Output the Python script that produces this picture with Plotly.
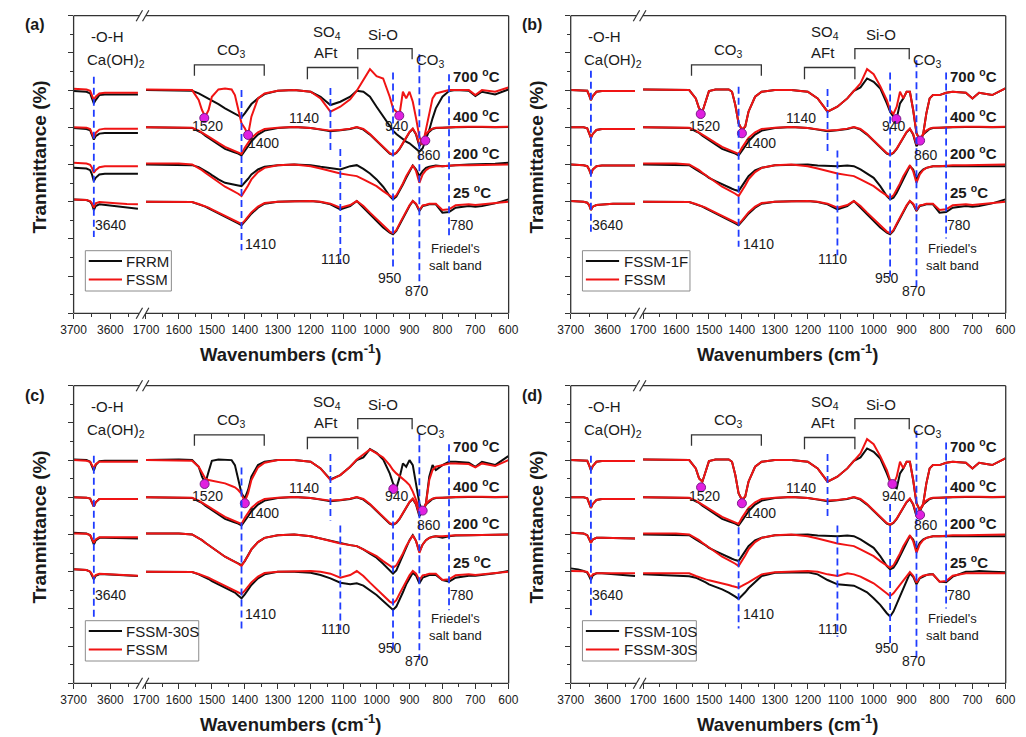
import plotly.graph_objects as go

# ---------------------------------------------------------------- data
# wavenumber grids (cm-1) of the two x-axis segments
wn_right = [1700, 1600, 1560, 1540, 1530, 1520, 1510, 1500, 1480, 1460, 1440, 1430, 1420, 1410,
            1400, 1390, 1380, 1360, 1340, 1300, 1250, 1200, 1170, 1140, 1110, 1080, 1060, 1040,
            1020, 1000, 980, 960, 950, 940, 930, 920, 910, 900, 890, 880, 870, 860, 850, 840,
            830, 820, 800, 780, 760, 720, 700, 680, 640, 600]
wn_left = [3700, 3680, 3665, 3655, 3650, 3645, 3640, 3630, 3615, 3585, 3555, 3525]

temperatures = [700, 400, 200, 25]
temp_labels = ["700", "400", "200", "25"]
stack_offset = {700: 672, 400: 560, 200: 448, 25: 336}   # vertical stacking of spectra (a.u.)

# relative transmittance (a.u.), 1700-600 cm-1 segment
a_frrm_700 = [0, 0, -2, -10, -15, -20, -25, -30, -42, -55, -65, -70, -75, -82, -70, -55, -42, -25, -12, -2,
              0, -5, -20, -45, -35, -20, -2, -5, -20, -50, -80, -110, -122, -132, -140, -148, -155, -160,
              -168, -175, -185, -175, -150, -120, -85, -55, -20, -3, 0, -2, -18, -5, -13, 2]
a_fssm_700 = [2, 2, 0, -30, -60, -80, -60, -20, 2, 5, 2, -15, -60, -100, -115, -135, -80, -25, -10, -2,
              0, -5, -25, -65, -50, -28, -2, 30, 63, 42, 35, -20, -55, -65, -72, -5, -25, -5, -35, -85,
              -140, -165, -120, -65, -25, -10, -5, 0, 0, 0, -15, 0, -5, 8]
a_frrm_400 = [0, 0, -2, -12, -17, -25, -32, -39, -52, -65, -72, -75, -79, -85, -69, -57, -42, -22, -10, -2,
              1, -2, -7, -12, -9, -5, 0, -7, -22, -42, -62, -79, -83, -77, -65, -47, -29, -15, -5, -22,
              -57, -42, -22, -12, -5, -2, -2, -2, 0, 1, 0, 1, 0, 1]
a_fssm_400 = [0, 0, -1, -10, -15, -22, -28, -35, -47, -59, -67, -71, -75, -80, -62, -47, -32, -15, -5, -1,
              1, -2, -6, -10, -8, -4, 1, -5, -20, -40, -60, -78, -82, -76, -64, -46, -28, -14, -4, -20,
              -52, -38, -20, -10, -4, -1, -1, -1, 1, 2, 1, 2, 1, 2]
a_frrm_200 = [0, 0, -2, -8, -13, -19, -25, -32, -45, -55, -60, -62, -63, -65, -55, -43, -30, -15, -7, -2,
              0, -2, -7, -12, -15, -5, -2, -13, -27, -45, -67, -95, -105, -97, -80, -60, -40, -20, -3,
              -15, -35, -20, -10, -7, -5, -3, -5, -3, -2, 0, 0, 0, 2, 5]
a_fssm_200 = [3, 3, 0, -10, -17, -25, -32, -38, -53, -67, -77, -82, -88, -95, -80, -63, -45, -23, -10, -2,
              0, -5, -12, -20, -27, -32, -35, -45, -55, -65, -80, -95, -100, -93, -77, -57, -35, -17, -2,
              -20, -55, -30, -17, -10, -7, -5, -5, -3, -2, -2, -2, -2, -2, 0]
a_frrm_25 = [0, 0, -1, -8, -11, -15, -20, -25, -35, -45, -53, -58, -65, -71, -61, -48, -36, -18, -6, 0,
             1, 2, -1, -8, -23, -13, 2, -18, -38, -58, -78, -93, -98, -88, -68, -48, -28, -13, 2, -8,
             -28, -13, -11, -8, -8, -8, -33, -31, -18, -13, -15, -13, -5, 7]
a_fssm_25 = [0, 0, -1, -7, -10, -14, -18, -23, -33, -43, -51, -56, -62, -67, -57, -44, -32, -15, -4, 0,
             1, 2, 0, -6, -18, -10, 2, -13, -33, -53, -73, -90, -95, -86, -66, -46, -26, -11, 2, -6,
             -25, -11, -9, -6, -6, -6, -25, -23, -11, -8, -10, -8, -3, 0]
b_fssm1f_700 = [2, 2, 0, -25, -55, -65, -30, -3, 2, 2, 2, -5, -45, -100, -120, -110, -65, -20, -5, 0,
                0, -5, -25, -65, -50, -25, -2, 8, 35, 25, 5, -40, -65, -80, -85, -40, -25, -5, -5, -60,
                -130, -150, -135, -70, -25, -15, -15, -8, -5, -8, -25, -8, -15, 5]
b_fssm_700 = [2, 2, 0, -25, -55, -65, -30, -3, 2, 2, 2, -5, -45, -100, -118, -110, -65, -20, -5, 0,
              0, -5, -25, -65, -50, -25, -2, 20, 63, 48, 12, -30, -60, -72, -50, -5, -25, -5, -5, -60,
              -130, -150, -135, -70, -25, -15, -15, -8, -5, -8, -25, -8, -15, 5]
b_fssm1f_200 = [0, 0, -2, -15, -20, -27, -33, -40, -50, -60, -70, -73, -77, -80, -65, -50, -35, -18, -10, -2,
                0, 0, -3, -5, -5, -3, -5, -15, -28, -40, -65, -95, -105, -100, -85, -65, -45, -25, -5,
                -15, -45, -25, -15, -10, -7, -5, -5, -5, -3, -3, -3, -3, -3, -5]
c_fssm30s_700 = [0, 2, 0, -20, -50, -70, -35, -2, 2, 2, 0, -15, -60, -100, -115, -90, -50, -15, -5, 0,
                 0, -5, -25, -58, -45, -20, 0, 8, 33, 22, 2, -40, -70, -85, -52, -10, -20, 0, -15, -70,
                 -130, -155, -130, -50, -15, -30, -15, -5, -5, -8, -20, -5, -15, 12]
c_fssm_700 = [0, 0, -2, -20, -40, -55, -60, -62, -65, -70, -78, -82, -90, -102, -125, -100, -60, -22, -8, 0,
              0, -5, -25, -60, -45, -20, 2, 18, 32, 20, 8, -15, -30, -40, -48, -55, -65, -75, -95, -120,
              -145, -155, -130, -60, -30, -20, -15, -10, -10, -12, -22, -10, -18, 0]
c_fssm30s_200 = [3, 3, 0, -10, -17, -25, -32, -38, -53, -67, -77, -82, -88, -92, -80, -63, -45, -23, -10, -2,
                 0, -5, -12, -20, -27, -32, -35, -45, -58, -70, -88, -108, -118, -108, -85, -60, -37, -17,
                 -2, -20, -52, -30, -17, -10, -7, -5, -10, -5, -3, -2, -2, -2, -2, 0]
c_fssm30s_25 = [0, 0, -1, -8, -12, -16, -22, -28, -38, -48, -58, -63, -72, -80, -68, -55, -40, -20, -8, 0,
                0, -3, -10, -20, -33, -38, -35, -42, -55, -70, -88, -108, -115, -105, -85, -62, -38, -20,
                -3, -12, -35, -18, -13, -10, -10, -10, -25, -30, -18, -12, -12, -10, -5, 2]
d_fssm10s_25 = [-8, -12, -14, -18, -22, -27, -32, -38, -45, -53, -63, -68, -75, -82, -73, -62, -50, -30, -13,
                -3, -2, -2, -8, -25, -38, -40, -42, -52, -62, -80, -100, -125, -135, -120, -98, -75, -50,
                -28, -5, -15, -38, -20, -15, -10, -8, -8, -30, -32, -15, 0, 0, 2, 0, -2]
d_fssm30s_25 = [-5, -5, -5, -13, -17, -20, -23, -26, -30, -36, -40, -43, -46, -48, -43, -38, -32, -20, -8,
                -2, 0, 2, 0, -8, -13, -5, -8, -15, -25, -35, -50, -65, -73, -65, -52, -38, -25, -15, -1,
                -12, -33, -18, -12, -10, -8, -8, -30, -28, -12, -5, -5, -5, -5, -5]

# relative transmittance (a.u.), 3700-3525 cm-1 segment (-O-H band)
a_frrm_oh_700 = [-3, -3, -5, -10, -25, -40, -30, -15, -13, -13, -13, -13]
a_frrm_oh_400 = [-2, -3, -5, -9, -22, -37, -27, -19, -17, -17, -17, -17]
a_frrm_oh_200 = [-10, -10, -12, -17, -30, -50, -40, -30, -28, -28, -28, -28]
a_frrm_oh_25 = [7, 7, 5, 0, -8, -25, -13, -8, -10, -13, -18, -21]
a_fssm_oh_700 = [4, 3, 2, -2, -15, -30, -20, -10, -8, -8, -8, -8]
a_fssm_oh_400 = [0, 0, -1, -5, -17, -32, -17, -7, -4, -4, -4, -4]
a_fssm_oh_200 = [5, 5, 3, -1, -10, -25, -17, -8, -5, -5, -5, -5]
a_fssm_oh_25 = [7, 7, 5, 2, -5, -18, -5, -1, -3, -5, -7, -8]
b_oh_700 = [0, 0, 0, -2, -15, -30, -18, -5, -3, -3, -3, -3]
b_oh_400 = [0, 0, 0, -3, -15, -32, -20, -8, -5, -5, -5, -5]
b_oh_200 = [0, 0, -2, -5, -15, -30, -15, -5, -3, -3, -3, -3]
b_oh_25 = [2, 2, 0, -3, -10, -25, -15, -10, -8, -6, -6, -6]
c_fssm30s_oh_700 = [2, 2, 0, -5, -20, -32, -15, -3, -2, -2, -2, -2]
c_fssm_oh_700 = [0, 0, -2, -5, -15, -25, -12, -5, -5, -5, -5, -5]
c_oh_400 = [0, 0, -1, -4, -15, -28, -15, -5, -5, -5, -5, -5]
c_fssm30s_oh_200 = [5, 5, 3, -2, -15, -30, -18, -10, -10, -10, -10, -12]
c_fssm_oh_200 = [3, 3, 2, -2, -12, -25, -15, -8, -8, -8, -8, -8]
c_fssm30s_oh_25 = [7, 7, 5, 0, -10, -23, -12, -8, -8, -10, -12, -13]
c_fssm_oh_25 = [7, 7, 5, 0, -8, -20, -10, -6, -7, -9, -11, -12]
d_oh_200 = [5, 5, 3, -2, -12, -25, -15, -10, -10, -10, -12, -12]
d_fssm10s_oh_25 = [10, 7, 2, -3, -13, -25, -11, -5, -5, -8, -11, -13]
d_fssm30s_oh_25 = [2, 2, 1, -1, -8, -18, -8, -5, -5, -5, -5, -5]

# highlighted band positions (magenta markers): wavenumber, a.u.
a_mark_wn = [1523, 1390, 931, 852]
a_mark_v = [588, 537, 595, 520]
b_mark_wn = [1525, 1400, 931, 859]
b_mark_v = [600, 542, 585, 520]
c_mark_wn = [1522, 1400, 949, 860]
c_mark_v = [600, 542, 585, 520]
d_mark_wn = [1524, 1400, 943, 859]
d_mark_v = [590, 542, 600, 507]

# dashed band lines (cm-1)
band_left = 3645
bands_right = [1410, 1140, 1110, 950, 870, 780]

panels = [
    dict(tag="(a)", black="FRRM", red="FSSM",
         black_r=[a_frrm_700, a_frrm_400, a_frrm_200, a_frrm_25],
         red_r=[a_fssm_700, a_fssm_400, a_fssm_200, a_fssm_25],
         black_l=[a_frrm_oh_700, a_frrm_oh_400, a_frrm_oh_200, a_frrm_oh_25],
         red_l=[a_fssm_oh_700, a_fssm_oh_400, a_fssm_oh_200, a_fssm_oh_25],
         mark=(a_mark_wn, a_mark_v)),
    dict(tag="(b)", black="FSSM-1F", red="FSSM",
         black_r=[b_fssm1f_700, a_frrm_400, b_fssm1f_200, a_frrm_25],
         red_r=[b_fssm_700, a_fssm_400, a_fssm_200, a_fssm_25],
         black_l=[b_oh_700, b_oh_400, b_oh_200, b_oh_25],
         red_l=[b_oh_700, b_oh_400, b_oh_200, b_oh_25],
         mark=(b_mark_wn, b_mark_v)),
    dict(tag="(c)", black="FSSM-30S", red="FSSM",
         black_r=[c_fssm30s_700, a_frrm_400, c_fssm30s_200, c_fssm30s_25],
         red_r=[c_fssm_700, a_fssm_400, a_fssm_200, a_fssm_25],
         black_l=[c_fssm30s_oh_700, c_oh_400, c_fssm30s_oh_200, c_fssm30s_oh_25],
         red_l=[c_fssm_oh_700, c_oh_400, c_fssm_oh_200, c_fssm_oh_25],
         mark=(c_mark_wn, c_mark_v)),
    dict(tag="(d)", black="FSSM-10S", red="FSSM-30S",
         black_r=[b_fssm1f_700, a_frrm_400, b_fssm1f_200, d_fssm10s_25],
         red_r=[b_fssm_700, a_fssm_400, a_fssm_200, d_fssm30s_25],
         black_l=[b_oh_700, b_oh_400, d_oh_200, d_fssm10s_oh_25],
         red_l=[b_oh_700, b_oh_400, d_oh_200, d_fssm30s_oh_25],
         mark=(d_mark_wn, d_mark_v)),
]

for p in panels:
    for arr in p["black_r"] + p["red_r"]:
        assert len(arr) == len(wn_right), (p["tag"], len(arr))
    for arr in p["black_l"] + p["red_l"]:
        assert len(arr) == len(wn_left), (p["tag"], len(arr))

# ---------------------------------------------------------------- layout / style
W, H = 1026, 737
FONT = "Arial, Liberation Sans, sans-serif"
TXT = "#1a1a1a"
AXC = "#333333"
BLACK = "#0d0d0d"
RED = "#f01414"
BLUE = "#1f3cff"
MAG = "#e020e0"

OFFSETS = [(0, 0), (508.5, 0), (0, 370), (508.5, 370)]
LX0, LX1 = 62, 133            # left (3700..) segment, px
RX0, RX1 = 135.7, 507         # right (1700..600) segment, px
TOP, BOT = 15.7, 313.3
LEFT_PX_PER_CM = 0.376
LEFT_END = 3700 - (LX1 - LX0) / LEFT_PX_PER_CM
YMAX = 896

# legend box right edge per panel (px, panel frame)
LEGEND_RIGHT = [162, 184, 190, 190.5]

# vertical extent of the dashed band lines per panel (a.u.)
dash_spans = [
    {3645: (712, 230), 1410: (672, 190), 1140: (678, 480), 1110: (495, 150), 950: (725, 130), 870: (780, 80), 780: (720, 225)},
    {3645: (730, 245), 1410: (682, 200), 1140: (675, 480), 1110: (490, 175), 950: (725, 110), 870: (762, 80), 780: (725, 225)},
    {3645: (685, 200), 1410: (650, 165), 1140: (690, 490), 1110: (475, 160), 950: (520, 95), 870: (750, 70), 780: (720, 220)},
    {3645: (685, 205), 1410: (470, 165), 1140: (690, 495), 1110: (475, 140), 950: (540, 110), 870: (760, 70), 780: (725, 225)},
]

# text labels: (segment, wavenumber, a.u., text, size, xanchor)
labels = [
    ("L", 3608, 832, "-O-H", 15, "center"),
    ("L", 3586, 760, "Ca(OH)<sub>2</sub>", 15, "center"),
    ("R", 1441, 790, "CO<sub>3</sub>", 15, "center"),
    ("R", 1149, 845, "SO<sub>4</sub>", 15, "center"),
    ("R", 1154, 785, "AFt", 15, "center"),
    ("R", 979, 840, "Si-O", 15, "center"),
    ("R", 837, 762, "CO<sub>3</sub>", 15, "center"),
    ("R", 1514, 565, "1520", 14, "center"),
    ("R", 1344, 512, "1400", 14, "center"),
    ("R", 1220, 588, "1140", 14, "center"),
    ("R", 938, 565, "940", 14, "center"),
    ("R", 842, 478, "860", 14, "center"),
    ("L", 3599, 267, "3640", 14, "center"),
    ("R", 1351, 210, "1410", 14, "center"),
    ("R", 1124, 162, "1110", 14, "center"),
    ("R", 959, 105, "950", 14, "center"),
    ("R", 877, 68, "870", 14, "center"),
    ("R", 741, 265, "780", 14, "center"),
    ("R", 847, 169, "Friedel's<br>salt band", 13, "left"),
]
temp_label_y = {700: 715, 400: 595, 200: 485, 25: 368}


def ref(letter, n):
    return letter if n == 1 else f"{letter}{n}"


def key(letter, n):
    return f"{letter}axis" if n == 1 else f"{letter}axis{n}"


fig = go.Figure()
layout = dict(width=W, height=H, margin=dict(l=0, r=0, t=0, b=0, pad=0),
              paper_bgcolor="white", plot_bgcolor="rgba(0,0,0,0)",
              font=dict(family=FONT, color=TXT), showlegend=False)
shapes, annotations = [], []

for i, p in enumerate(panels):
    ox, oy = OFFSETS[i]
    nl, nr, ny = 2 * i + 1, 2 * i + 2, i + 1
    xl, xr, yy = ref("x", nl), ref("x", nr), ref("y", ny)
    tickfont = dict(size=12, family=FONT, color=TXT)

    layout[key("x", nl)] = dict(
        domain=[(ox + LX0) / W, (ox + LX1) / W], range=[3700, LEFT_END], anchor=yy,
        tickmode="array", tickvals=[3700, 3600], ticks="outside", ticklen=5, tickwidth=1.2,
        tickcolor=AXC, minor=dict(tickmode="array", tickvals=[3650, 3550], ticks="outside",
                                  ticklen=3, tickwidth=1, tickcolor=AXC),
        showgrid=False, zeroline=False, showline=False, tickfont=tickfont, fixedrange=True)
    layout[key("x", nr)] = dict(
        domain=[(ox + RX0) / W, (ox + RX1) / W], range=[1701, 599], anchor=yy,
        tickmode="linear", tick0=0, dtick=100, ticks="outside", ticklen=5, tickwidth=1.2,
        tickcolor=AXC, minor=dict(tick0=0, dtick=50, ticks="outside", ticklen=3, tickwidth=1,
                                  tickcolor=AXC),
        showgrid=False, zeroline=False, showline=False, tickfont=tickfont, fixedrange=True)
    layout[key("y", ny)] = dict(
        domain=[1 - (oy + BOT) / H, 1 - (oy + TOP) / H], range=[0, YMAX], anchor=xl,
        tickmode="linear", tick0=0, dtick=112, ticks="outside", ticklen=5, tickwidth=1.2,
        tickcolor=AXC, minor=dict(tick0=0, dtick=56, ticks="outside", ticklen=3, tickwidth=1,
                                  tickcolor=AXC),
        showticklabels=False, showgrid=False, zeroline=False, showline=False, fixedrange=True)

    # spectra: black first, red on top
    for series, color in (("black", BLACK), ("red", RED)):
        for k, t in enumerate(temperatures):
            base = stack_offset[t]
            fig.add_trace(go.Scatter(
                x=wn_left, y=[base + v for v in p[series + "_l"][k]], xaxis=xl, yaxis=yy,
                mode="lines", line=dict(color=color, width=2), hoverinfo="skip",
                name=p[series]))
            fig.add_trace(go.Scatter(
                x=wn_right, y=[base + v for v in p[series + "_r"][k]], xaxis=xr, yaxis=yy,
                mode="lines", line=dict(color=color, width=2), hoverinfo="skip",
                name=p[series]))

    mw, mv = p["mark"]
    fig.add_trace(go.Scatter(x=mw, y=mv, xaxis=xr, yaxis=yy, mode="markers",
                             marker=dict(color=MAG, size=9, line=dict(color="#7a1a8a", width=1)),
                             hoverinfo="skip"))

    def pline(x0, y0, x1, y1, w=1.3, color=AXC):
        shapes.append(dict(type="line", xref="paper", yref="paper",
                           x0=(ox + x0) / W, y0=1 - (oy + y0) / H,
                           x1=(ox + x1) / W, y1=1 - (oy + y1) / H,
                           line=dict(color=color, width=w), layer="above"))

    # frame with axis break
    pline(LX0, TOP, LX0, BOT)
    pline(RX1, TOP, RX1, BOT)
    for yline in (TOP, BOT):
        pline(LX0, yline, 129, yline)
        pline(136, yline, RX1, yline)
        pline(126, yline + 5.5, 132.5, yline - 5.5, 1.2)
        pline(132.5, yline + 5.5, 139, yline - 5.5, 1.2)

    # legend box
    lr = LEGEND_RIGHT[i]
    shapes.append(dict(type="rect", xref="paper", yref="paper",
                       x0=(ox + 74) / W, x1=(ox + lr) / W,
                       y0=1 - (oy + 291) / H, y1=1 - (oy + 250.7) / H,
                       line=dict(color="#8c8c8c", width=1), fillcolor="white", layer="above"))
    for yrow, series, color in ((261, "black", BLACK), (279.5, "red", RED)):
        pline(77.5, yrow, 111.5, yrow, 2.2, color)
        annotations.append(dict(xref="paper", yref="paper", x=(ox + 114) / W, y=1 - (oy + yrow) / H,
                                text=p[series], showarrow=False, xanchor="left", yanchor="middle",
                                font=dict(size=15, family=FONT, color=TXT)))

    # dashed band lines
    spans = dash_spans[i]
    for b in [band_left] + bands_right:
        y0, y1 = spans[b]
        shapes.append(dict(type="line", xref=xl if b == band_left else xr, yref=yy,
                           x0=b, x1=b, y0=y0, y1=y1, layer="above",
                           line=dict(color=BLUE, width=1.8, dash="7px,4px")))

    # brackets
    for x0, x1, ytop, yleg in ((1553, 1341, 748, 715), (1210, 1057, 740, 705), (1057, 892, 797, 765)):
        shapes.append(dict(type="path", xref=xr, yref=yy,
                           path=f"M {x0},{yleg} L {x0},{ytop} L {x1},{ytop} L {x1},{yleg}",
                           line=dict(color=AXC, width=1.3)))

    # band labels
    for seg, wx, vy, text, size, anchor in labels:
        annotations.append(dict(xref=xl if seg == "L" else xr, yref=yy, x=wx, y=vy, text=text,
                                showarrow=False, xanchor=anchor, yanchor="middle",
                                font=dict(size=size, family=FONT, color=TXT)))
    for t, tl in zip(temperatures, temp_labels):
        annotations.append(dict(xref=xr, yref=yy, x=774, y=temp_label_y[t],
                                text=f"<b>{tl} <sup>o</sup>C</b>", showarrow=False,
                                xanchor="left", yanchor="middle",
                                font=dict(size=15, family=FONT, color=TXT)))

    # panel tag and axis titles
    annotations.append(dict(xref="paper", yref="paper", x=(ox + 22) / W, y=1 - (oy + 25) / H,
                            text=f"<b>{p['tag']}</b>", showarrow=False, xanchor="center",
                            yanchor="middle", font=dict(size=16, family=FONT, color=TXT)))
    annotations.append(dict(xref="paper", yref="paper", x=(ox + 284.5) / W, y=1 - (oy + 353) / H,
                            text="<b>Wavenumbers (cm<sup>-1</sup>)</b>", showarrow=False,
                            xanchor="center", yanchor="middle",
                            font=dict(size=18.5, family=FONT, color=TXT)))
    annotations.append(dict(xref="paper", yref="paper", x=(ox + 27) / W, y=1 - (oy + 157) / H,
                            text="<b>Tranmittance (%)</b>", showarrow=False, textangle=-90,
                            xanchor="center", yanchor="middle",
                            font=dict(size=19, family=FONT, color=TXT)))

layout["shapes"] = shapes
layout["annotations"] = annotations
fig.update_layout(**layout)
fig.write_html("out.html", config={"displayModeBar": False})
